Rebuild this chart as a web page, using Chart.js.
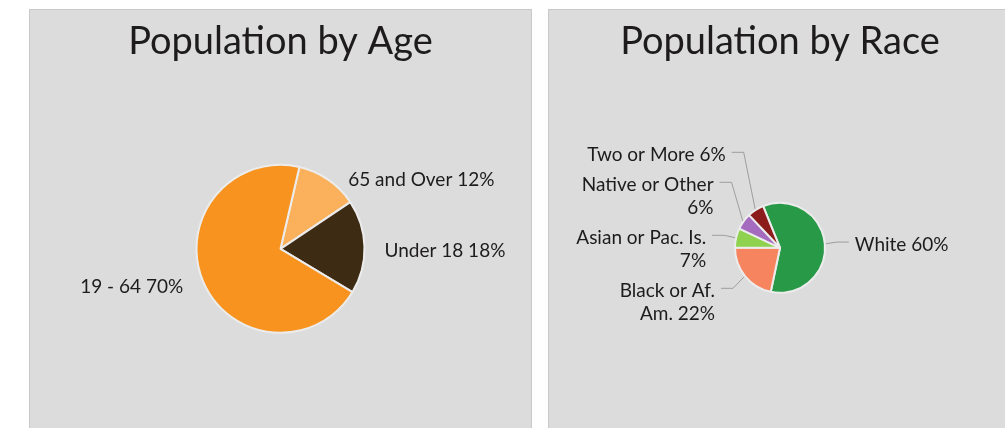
<!DOCTYPE html>
<html>
<head>
<meta charset="utf-8">
<title>Population</title>
<script src="https://cdn.jsdelivr.net/npm/chart.js@4.4.1/dist/chart.umd.min.js"></script>
<style>
  html, body { margin: 0; padding: 0; background: #fff; overflow: hidden; }
  body { width: 1005px; height: 428px; position: relative; }
  .panel { position: absolute; top: 9px; width: 501px; height: 440px; background: #dcdcdc; border: 1px solid #c9c9c9; }
  #age-panel { left: 29px; }
  #race-panel { left: 548px; }
  .panel canvas { display: block; }
</style>
</head>
<body>
<div class="panel" id="age-panel"><canvas id="age-chart" width="501" height="418"></canvas></div>
<div class="panel" id="race-panel"><canvas id="race-chart" width="501" height="418"></canvas></div>
<script>
// age groups
const ageLabels   = ['65 and Over', 'Under 18', '19 - 64'];
const agePercents = [12, 18, 70];
const ageColors   = ['#fbb05b', '#3e2b13', '#f7931e'];

// race groups ("\n" = preferred break)
const raceLabels   = ['White', 'Black or Af.\nAm.', 'Asian or Pac. Is.', 'Native or Other', 'Two or More'];
const racePercents = [60, 22, 7, 6, 6];
const raceColors   = ['#289a47', '#f6845f', '#8ed24f', '#a46bbf', '#8c1c1c'];

const textColor  = '#1d1b1b';
const fontFamily = 'Lato';

// greedy word wrap, hard breaks on "\n"
function wrapText(ctx, text, maxWidth) {
    const lines = [];
    text.split('\n').forEach(part => {
        const words = part.split(' ');
        let line = words[0];
        for (let i = 1; i < words.length; i++) {
            const test = line + ' ' + words[i];
            if (ctx.measureText(test).width > maxWidth) {
                lines.push(line);
                line = words[i];
            } else {
                line = test;
            }
        }
        lines.push(line);
    });
    return lines;
}

// push overlapping label boxes apart, groups centred on weighted targets
function distribute(items) {
    items.sort((a, b) => a.target - b.target);
    const place = g => {
        let off = 0, sum = 0, wsum = 0;
        g.members.forEach(m => {
            m.off = off + m.height / 2;
            off += m.height;
            sum += m.weight * (m.target - m.off);
            wsum += m.weight;
        });
        g.top = sum / wsum;
    };
    const groups = items.map(it => ({ members: [it], size: it.height }));
    groups.forEach(place);
    let merged = true;
    while (merged) {
        merged = false;
        for (let k = 1; k < groups.length; k++) {
            if (groups[k - 1].top + groups[k - 1].size > groups[k].top) {
                groups[k - 1].members.push(...groups[k].members);
                groups[k - 1].size += groups[k].size;
                place(groups[k - 1]);
                groups.splice(k, 1);
                merged = true;
                break;
            }
        }
    }
    groups.forEach(g => g.members.forEach(m => { m.y = g.top + m.off; }));
}

// outside labels with optional crooked connectors
const pieLabels = {
    id: 'pieLabels',
    afterDatasetsDraw(chart, args, opts) {
        const ctx = chart.ctx;
        const meta = chart.getDatasetMeta(0);
        const values = chart.data.datasets[0].data;
        ctx.save();
        ctx.font = opts.size + 'px ' + fontFamily;
        const items = meta.data.map((arc, i) => {
            const p = arc.getProps(['x', 'y', 'startAngle', 'endAngle', 'outerRadius'], true);
            const mid = (p.startAngle + p.endAngle) / 2;
            const cos = Math.cos(mid), sin = Math.sin(mid);
            const side = cos < 0 ? -1 : 1;
            const edgeX = p.x + (p.outerRadius + 1) * cos;
            const edgeY = p.y + (p.outerRadius + 1) * sin;
            const textX = p.x + p.outerRadius * cos + side * opts.gap;
            const room = side < 0 ? textX - opts.margin : chart.width - opts.margin - textX;
            const lines = wrapText(ctx, chart.data.labels[i] + ' ' + values[i] + '%', Math.min(opts.maxWidth, room));
            return {
                side, edgeX, edgeY, textX, lines,
                height: lines.length * opts.lineHeight + opts.padding,
                weight: values[i],
                target: p.y + (p.outerRadius + opts.distance) * sin
            };
        });
        distribute(items.filter(it => it.side < 0));
        distribute(items.filter(it => it.side > 0));

        items.forEach(it => {
            const firstY = it.y - (it.lines.length - 1) * opts.lineHeight / 2 + opts.shift;
            if (opts.connectors) {
                const ax = it.textX - it.side * 6;
                const ay = firstY - 3;
                ctx.beginPath();
                ctx.moveTo(ax, ay);
                ctx.lineTo(ax - it.side * 12, ay);
                ctx.lineTo(it.edgeX, it.edgeY);
                ctx.strokeStyle = '#9d9d9d';
                ctx.lineWidth = 1;
                ctx.stroke();
            }
            ctx.fillStyle = textColor;
            ctx.textAlign = it.side < 0 ? 'right' : 'left';
            ctx.textBaseline = 'middle';
            it.lines.forEach((line, j) => {
                ctx.fillText(line, it.textX, firstY + j * opts.lineHeight);
            });
        });
        ctx.restore();
    }
};

function makePie(id, title, labels, values, colors, radius, rotation, padding, labelOpts) {
    return new Chart(document.getElementById(id), {
        type: 'pie',
        plugins: [pieLabels],
        data: {
            labels: labels,
            datasets: [{
                data: values,
                backgroundColor: colors,
                borderColor: '#ececec',
                borderWidth: 2,
                radius: radius,
                rotation: rotation
            }]
        },
        options: {
            responsive: false,
            animation: false,
            layout: { padding: padding },
            plugins: {
                legend: { display: false },
                tooltip: { enabled: false },
                title: {
                    display: true,
                    text: title,
                    color: textColor,
                    font: { family: fontFamily, size: 38, weight: 'normal' },
                    padding: { top: 9, bottom: 10 }
                },
                pieLabels: labelOpts
            }
        }
    });
}

makePie('age-chart', 'Population by Age', ageLabels, agePercents, ageColors, 84, 13,
    { top: 0, bottom: 5, left: 0, right: 0 },
    { size: 19, lineHeight: 23, padding: 7, gap: 20, distance: 4, shift: 4, margin: 10, maxWidth: 220, connectors: false });

makePie('race-chart', 'Population by Race', raceLabels, racePercents, raceColors, 45, -22,
    { top: 0, bottom: 7, left: 0, right: 39 },
    { size: 19, lineHeight: 23, padding: 7, gap: 30, distance: 20, shift: 3, margin: 10, maxWidth: 140, connectors: true });
</script>
</body>
</html>
